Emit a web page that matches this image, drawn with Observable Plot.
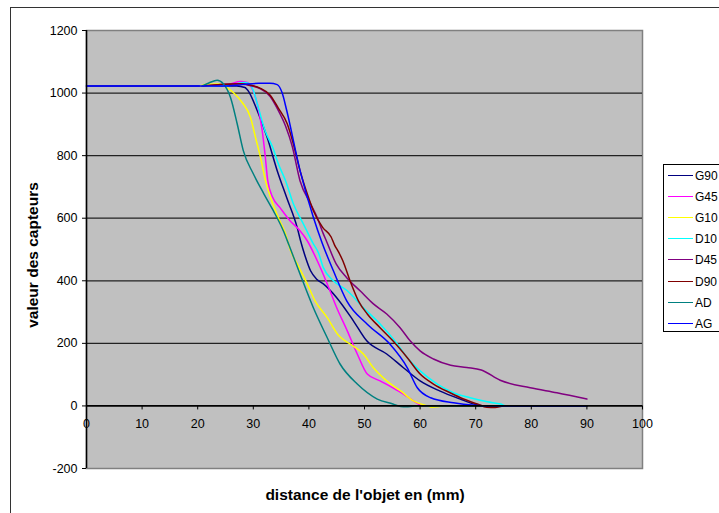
<!DOCTYPE html>
<html><head><meta charset="utf-8">
<script src="https://cdn.jsdelivr.net/npm/d3@7"></script>
<script src="https://cdn.jsdelivr.net/npm/@observablehq/plot@0.6"></script>
<style>
body{margin:0;background:#fff;}
#wrap{position:relative;width:719px;height:513px;overflow:hidden;font-family:"Liberation Sans",Arial,sans-serif;color:#000;}
#chart{position:absolute;left:0;top:0;}
#border{position:absolute;left:10px;top:7px;width:760px;height:560px;border:1.5px solid #333;box-sizing:border-box;pointer-events:none;}
#xtitle{position:absolute;left:365px;top:495px;transform:translate(-50%,-50%);font-weight:bold;font-size:15.5px;white-space:nowrap;}
#ytitle{position:absolute;left:33px;top:255px;transform:translate(-50%,-50%) rotate(-90deg);font-weight:bold;font-size:15.5px;white-space:nowrap;}
#legend{position:absolute;left:663px;top:164px;width:80px;height:168px;border:1px solid #000;box-sizing:border-box;background:#fff;}
.li{position:absolute;left:4px;height:14px;}
.li .sw{position:absolute;left:0;top:6px;width:25px;height:0;border-top:1.5px solid;}
.li .tx{position:absolute;left:27px;top:0;font-size:12px;line-height:14px;white-space:nowrap;}
</style></head>
<body>
<div id="wrap">
  <div id="chart"></div>
  <div id="border"></div>
  <div id="xtitle">distance de l'objet en (mm)</div>
  <div id="ytitle">valeur des capteurs</div>
  <div id="legend"></div>
</div>
<script>
const seriesNames = ["G90","G45","G10","D10","D45","D90","AD","AG"];
const seriesColors = ["#000080","#ff00ff","#ffff00","#00ffff","#800080","#800000","#008080","#0000ff"];
const xTicks = [0,10,20,30,40,50,60,70,80,90,100];
const yTicks = [-200,0,200,400,600,800,1000,1200];
const gridValues = [200,400,600,800,1000];

const G90 = [[0,1023],[20,1023],[27,1023],[28.5,1018],[29.2,1004],[30.7,944],[32.5,858],[34.3,752],[36,666],[37.9,570],[38.5,528],[39.3,480],[40.3,432],[41.4,405],[42.6,390],[45,346],[48,272],[50.4,208],[54,166],[57,122],[60,80],[63.5,48],[67.2,22],[70.3,3],[72,0],[90,0]];
const G45 = [[21,1023],[25,1025],[26,1030],[27.7,1037],[28.9,1034],[29.8,1014],[30.7,966],[31.6,880],[32.1,806],[32.6,720],[33.5,666],[34.8,634],[36.6,592],[38.4,560],[39.7,528],[41.5,464],[43.3,390],[45,314],[46.9,240],[48.7,166],[50.5,102],[52.8,80],[55.1,58],[57,38],[58.8,16],[60,3],[61,0],[90,0]];
const G10 = [[20.5,1023],[21.5,1028],[24,1029],[25.2,1018],[26.4,1002],[28,970],[29.5,922],[30.4,858],[31.3,794],[32.2,720],[33.5,646],[34.5,602],[35.8,550],[36.7,496],[37.9,454],[39.7,390],[41.1,336],[43.3,282],[45.4,224],[47.4,198],[49.8,166],[51.6,122],[54,80],[56.5,48],[58.8,16],[61.3,0],[62,-4],[63,-3],[64,0],[90,0]];
const D10 = [[21,1023],[25.7,1024],[28.2,1034],[29.3,1030],[30,1008],[30.9,954],[32.1,880],[33.5,826],[34.5,774],[35.8,720],[37.2,646],[39,582],[40.8,518],[41.7,490],[42.6,442],[44.4,400],[46.9,368],[49.8,314],[52.8,262],[55.9,198],[57.7,154],[60,112],[63.1,70],[66,42],[69,26],[72.1,13],[74.5,6],[75.5,0],[90,0]];
const D45 = [[21,1023],[27.5,1030],[29.4,1024],[31.2,1014],[33,990],[34.4,948],[35.8,895],[37,830],[38.4,720],[40.3,646],[41.5,602],[42.6,550],[43.2,525],[44.9,454],[46.8,410],[49.2,368],[51.6,326],[54,294],[56.4,250],[58.2,208],[60,176],[62.4,150],[65.5,130],[68.4,123],[71,115],[74.4,82],[79.8,58],[84.6,42],[90,22]];
const D90 = [[21,1023],[27.7,1030],[29.4,1026],[31.2,1016],[33,994],[34.5,952],[36.1,902],[37.2,838],[38.4,752],[39.7,678],[40.8,624],[42.5,570],[44,540],[44.6,515],[45.4,490],[46.1,464],[47.4,400],[48.9,336],[50.5,294],[52.8,250],[55.1,208],[57.7,154],[60,102],[62.4,70],[65.4,42],[67.8,22],[70.3,6],[72,-4],[73.5,-5],[75,0],[90,0]];
const AD = [[20.8,1023],[22,1032],[23.5,1041],[24.6,1030],[25.9,986],[27.1,902],[28.2,816],[30,742],[31.9,678],[33.6,624],[35.4,560],[36.4,515],[38.4,422],[40.8,314],[43.3,218],[45.6,134],[48.7,70],[52.3,22],[55.1,6],[56.5,-2],[57.5,-3],[59,0],[90,0]];
const AG = [[0,1023],[25,1023],[27,1025],[29,1029],[31,1031],[33,1031],[34.3,1027],[35.2,1000],[36,945],[38.4,753],[40.8,603],[42.4,520],[44.4,432],[46.8,336],[50.5,261],[54.6,197],[57.7,122],[59.5,58],[61.9,26],[66,10],[69.7,2],[72,0],[90,0]];

const seriesData = [G90,G45,G10,D10,D45,D90,AD,AG];

const lineMarks = seriesData.map((s,i) =>
  Plot.line(s, {x: d => d[0], y: d => d[1], stroke: seriesColors[i], strokeWidth: 1.5, curve: "monotone-x"})
);

const chart = Plot.plot({
  width: 719,
  height: 513,
  marginLeft: 86,
  marginRight: 77,
  marginTop: 30,
  marginBottom: 45,
  style: {fontFamily: "Liberation Sans, Arial, sans-serif", fontSize: "12.5px", color: "#000", background: "transparent"},
  x: {domain: [0,100], axis: null},
  y: {domain: [-200,1200], axis: null},
  marks: [
    Plot.frame({fill: "#c0c0c0", stroke: "#808080", strokeWidth: 1.5}),
    Plot.ruleY(gridValues, {stroke: "#222", strokeWidth: 1.3}),
    ...lineMarks,
    Plot.ruleY([0], {stroke: "#000", strokeWidth: 1.8}),
    Plot.ruleX([0], {stroke: "#000", strokeWidth: 1.5}),
    Plot.ruleX(xTicks, {x: d => d, y1: 0, y2: 0, insetBottom: -4, stroke: "#000"}),
    Plot.text(xTicks, {x: d => d, y: 0, dy: 18, text: d => String(d), fontSize: 12.5, fill: "#000"}),
    Plot.axisY(yTicks, {anchor: "left", tickSize: 4, tickPadding: 5, fontSize: 12.5, color: "#000", label: null, tickFormat: d => String(d)})
  ]
});
document.getElementById("chart").appendChild(chart);

const leg = document.getElementById("legend");
seriesNames.forEach((n,i) => {
  const d = document.createElement("div");
  d.className = "li";
  d.style.top = (4 + i*21.1) + "px";
  d.innerHTML = `<div class="sw" style="border-color:${seriesColors[i]}"></div><div class="tx">${n}</div>`;
  leg.appendChild(d);
});
</script>
</body></html>
